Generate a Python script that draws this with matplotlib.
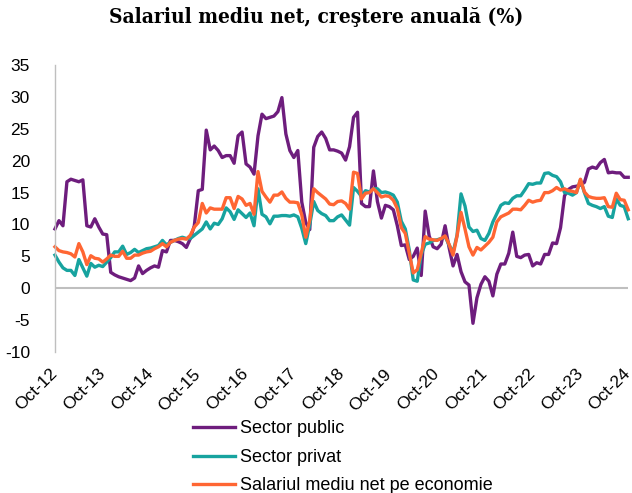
import matplotlib
matplotlib.use("Agg")
import matplotlib.pyplot as plt
import numpy as np

labels = ["Oct-12", "Oct-13", "Oct-14", "Oct-15", "Oct-16", "Oct-17", "Oct-18",
          "Oct-19", "Oct-20", "Oct-21", "Oct-22", "Oct-23", "Oct-24"]

public = [9.3, 10.6, 9.8, 16.7, 17.1, 16.9, 16.7, 17.0, 9.8, 9.6,
          10.9, 9.6, 8.5, 8.4, 2.5, 2.1, 1.8, 1.6, 1.4, 1.2,
          1.6, 3.5, 2.3, 2.8, 3.2, 3.5, 3.3, 5.9, 5.7, 7.5,
          7.5, 7.3, 7.0, 6.4, 7.8, 9.8, 15.3, 15.5, 24.8, 21.7,
          22.3, 21.6, 20.5, 20.8, 20.8, 19.6, 23.9, 24.5, 19.5, 19.0,
          17.9, 23.9, 27.3, 26.6, 26.8, 27.0, 27.7, 29.9, 24.2, 21.6,
          20.5, 21.6, 13.5, 10.3, 9.2, 22.1, 23.8, 24.5, 23.5, 21.7,
          21.7, 21.5, 21.2, 20.1, 22.2, 26.8, 27.6, 13.3, 12.8, 12.8,
          18.4, 13.6, 11.0, 13.0, 12.8, 12.3, 9.8, 6.7, 6.8, 4.5,
          5.0, 6.3, 2.0, 12.1, 8.2, 6.5, 6.2, 6.9, 9.8, 6.4,
          3.5, 5.3, 2.6, 1.0, 0.5, -5.5, -1.5, 0.6, 1.8, 1.1,
          -1.2, 2.2, 3.8, 3.8, 5.5, 8.8, 5.0, 4.8, 5.2, 5.3,
          3.5, 4.0, 3.8, 5.3, 5.3, 7.1, 7.0, 9.5, 14.5, 15.5,
          15.9, 16.0, 16.2, 16.6, 18.7, 19.0, 18.8, 19.7, 20.2, 18.1,
          18.2, 18.1, 18.1, 17.4, 17.4]

private = [5.2, 4.1, 3.2, 2.8, 2.8, 2.0, 4.5, 3.2, 1.9, 3.9,
           3.3, 3.6, 3.4, 4.1, 4.8, 5.7, 5.7, 6.6, 5.3, 5.6,
           6.1, 5.6, 5.9, 6.2, 6.3, 6.5, 6.7, 7.5, 6.8, 7.2,
           7.5, 7.8, 8.0, 7.8, 7.8, 8.3, 8.8, 9.3, 10.4, 9.3,
           10.2, 10.0, 10.9, 12.6, 12.0, 10.8, 12.3, 11.7, 11.1, 11.8,
           9.8, 15.6, 11.6, 11.2, 10.1, 11.3, 11.3, 11.4, 11.4, 11.3,
           11.5, 11.2, 9.4, 7.0, 10.0, 13.6, 12.2, 11.7, 11.4, 10.6,
           10.6, 11.2, 11.5, 10.7, 9.9, 15.8, 15.2, 14.4, 15.3, 15.1,
           15.6, 15.6, 15.0, 15.1, 14.9, 14.6, 13.5, 10.5, 9.3, 6.0,
           1.3, 1.1, 5.3, 6.9, 7.1, 7.5, 7.6, 7.8, 8.1, 6.8,
           5.6, 8.3, 14.8, 12.9, 9.6, 8.9, 9.1, 7.8, 7.5, 8.6,
           10.4, 11.7, 13.0, 13.4, 13.3, 14.1, 14.5, 14.5, 15.4, 16.4,
           16.3, 16.5, 16.5, 18.0, 18.1, 17.7, 17.5, 16.7, 15.0, 14.9,
           14.6, 15.0, 17.0, 15.0, 13.3, 13.0, 12.8, 12.5, 12.8, 11.3,
           11.1, 14.0, 13.0, 12.8, 10.9]

economy = [6.5, 5.9, 5.7, 5.6, 5.4, 4.9, 7.0, 5.7, 3.7, 5.1,
           4.7, 4.6, 4.1, 4.6, 5.2, 5.0, 5.0, 5.8, 4.7, 4.7,
           5.2, 5.2, 5.5, 5.7, 5.8, 6.2, 6.5, 7.0, 6.5, 7.2,
           7.5, 7.7, 7.8, 7.7, 8.3, 9.6, 10.3, 13.3, 11.8, 12.6,
           12.4, 12.4, 12.4, 14.2, 14.2, 12.5, 14.4, 14.0, 13.0, 13.3,
           11.6, 18.3, 15.2, 14.3, 13.5, 14.6, 14.6, 15.1, 14.1, 13.5,
           13.5, 13.4, 11.5, 8.0, 10.7, 15.6, 15.0, 14.5, 14.0, 13.2,
           13.1, 13.6, 13.7, 13.3, 12.4, 18.2, 18.0, 14.0, 14.9, 15.0,
           15.6, 15.0, 14.3, 14.5, 14.4, 13.8, 12.5, 9.5, 8.6, 5.5,
           2.4, 2.9, 5.5, 8.1, 7.7, 7.6, 7.5, 7.8, 8.2, 6.9,
           5.2, 8.2, 11.9, 9.3, 6.5, 5.2, 6.4, 6.0, 6.6, 7.2,
           8.0, 10.4, 11.2, 11.5, 11.8, 12.4, 12.4, 12.3, 13.0, 13.8,
           13.5, 13.7, 13.8, 15.0, 15.0, 15.3, 15.8, 15.4, 15.6, 15.3,
           15.2, 15.0, 17.1, 15.1, 14.4, 14.2, 14.1, 14.1, 14.2, 12.8,
           12.7, 14.9, 13.9, 13.8, 12.3]

series_names = ["Sector public", "Sector privat", "Salariul mediu net pe economie"]
colors = ["#6E1D7D", "#17A39F", "#FF6633"]

x = np.arange(len(public))

fig = plt.figure(figsize=(6.32, 4.93), dpi=100)
ax = fig.add_axes([0.087, 0.286, 0.907, 0.582])

for vals, name, c in zip([public, private, economy], series_names, colors):
    ax.plot(x, vals, color=c, lw=2.4, label=name, solid_joinstyle="round",
            clip_on=False)

ax.set_xlim(0, len(public) - 1)
ax.set_ylim(-10, 35)
ax.set_yticks(np.arange(-10, 36, 5))
ax.set_yticklabels([str(v) for v in range(-10, 36, 5)], fontsize=12.5,
                   family="Liberation Sans")
ax.set_xticks(np.arange(0, len(public), 12))
ax.set_xticklabels(labels, rotation=45, ha="right", va="center",
                   rotation_mode="anchor", fontsize=12.5, family="Liberation Sans")
ax.tick_params(axis="both", length=0)
ax.tick_params(axis="x", pad=14)
ax.tick_params(axis="y", pad=18)

for s in ["top", "right", "bottom"]:
    ax.spines[s].set_visible(False)
ax.spines["left"].set_color("#BFBFBF")
ax.spines["left"].set_linewidth(1.0)
ax.axhline(0, color="#BFBFBF", lw=1.5, zorder=0.5)

fig.suptitle("Salariul mediu net, creştere anuală (%)", x=0.5, y=0.985,
             fontsize=15, fontweight="bold", family="DejaVu Serif",
             fontstretch="condensed")

leg = fig.legend(loc="upper left", bbox_to_anchor=(0.294, 0.162), frameon=False,
                 prop={"family": "Liberation Sans", "size": 13},
                 handlelength=2.33, handletextpad=0.28, labelspacing=0.64,
                 borderaxespad=0)

fig.savefig("out.png", dpi=100)
